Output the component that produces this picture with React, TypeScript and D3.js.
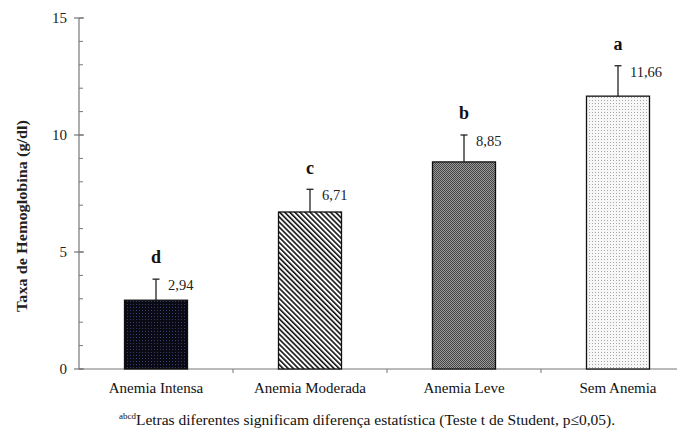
import React from "react";
import * as d3 from "d3";

const categories = ["Anemia Intensa", "Anemia Moderada", "Anemia Leve", "Sem Anemia"];
const values = [2.94, 6.71, 8.85, 11.66];
const errors = [0.9, 0.97, 1.15, 1.3];
const valueLabels = ["2,94", "6,71", "8,85", "11,66"];
const letters = ["d", "c", "b", "a"];
const patterns = ["pDark", "pStripe", "pCheck", "pDots"];
const yTicks = [0, 5, 10, 15];
const yMinor = d3.range(0, 16, 1);

export default function App() {
  const W = 684, H = 438;
  const x0 = 79, x1 = 695;
  const y = d3.scaleLinear().domain([0, 15]).range([369, 18]);
  const x = d3.scaleBand().domain(categories).range([x0, x1]).paddingInner(0).paddingOuter(0);
  const bw = 63;
  const serif = "'Liberation Serif', 'DejaVu Serif', serif";
  return (
    <svg width={W} height={H} style={{ position: "absolute", left: 0, top: 0, background: "#fff" }} fontFamily={serif}>
      <defs>
        <pattern id="pDark" patternUnits="userSpaceOnUse" width={3} height={3}>
          <rect width={3} height={3} fill="#0a0a14" />
          <rect x={1} y={1} width={1} height={1} fill="#3a3a6a" />
        </pattern>
        <pattern id="pStripe" patternUnits="userSpaceOnUse" width={3.6} height={3.6} patternTransform="rotate(-45)">
          <rect width={3.6} height={3.6} fill="#fff" />
          <rect x={0} y={0} width={1.6} height={3.6} fill="#111" />
        </pattern>
        <pattern id="pCheck" patternUnits="userSpaceOnUse" width={2} height={2}>
          <rect width={2} height={2} fill="#9a9a9a" />
          <rect x={0} y={0} width={1} height={1} fill="#444" />
          <rect x={1} y={1} width={1} height={1} fill="#444" />
        </pattern>
        <pattern id="pDots" patternUnits="userSpaceOnUse" width={3} height={3}>
          <rect width={3} height={3} fill="#f7f7f7" />
          <rect x={1} y={1} width={1} height={1} fill="#a8a8a8" />
        </pattern>
      </defs>
      {/* y axis */}
      <line x1={x0} x2={x0} y1={y(15)} y2={y(0)} stroke="#777" strokeWidth={1.2} />
      {yMinor.map((t) => (
        <line key={"m" + t} x1={x0} x2={x0 + 4} y1={y(t)} y2={y(t)} stroke="#777" strokeWidth={1} />
      ))}
      {yTicks.map((t) => (
        <g key={"t" + t}>
          <line x1={x0 - 5} x2={x0 + 5} y1={y(t)} y2={y(t)} stroke="#777" strokeWidth={1.2} />
          <text x={x0 - 12} y={y(t)} dy="0.35em" textAnchor="end" fontSize={15} fill="#222">{t}</text>
        </g>
      ))}
      <text transform={`translate(22,216) rotate(-90)`} dy="0.35em" textAnchor="middle" fontSize={14} fontWeight="bold" fill="#222" textLength={192} lengthAdjust="spacingAndGlyphs">Taxa de Hemoglobina (g/dl)</text>
      {/* x axis */}
      <line x1={x0} x2={677} y1={y(0)} y2={y(0)} stroke="#777" strokeWidth={1.2} />
      {categories.slice(1).map((c) => (
        <line key={"xt" + c} x1={x(c)!} x2={x(c)!} y1={y(0)} y2={y(0) + 4} stroke="#777" strokeWidth={1} />
      ))}
      {categories.map((c, i) => {
        const cx = x(c)! + x.bandwidth() / 2;
        const top = y(values[i]);
        const eTop = y(values[i] + errors[i]);
        return (
          <g key={c}>
            <rect x={cx - bw / 2} y={top} width={bw} height={y(0) - top} fill={`url(#${patterns[i]})`} stroke="#111" strokeWidth={1.3} />
            <line x1={cx} x2={cx} y1={top} y2={eTop} stroke="#222" strokeWidth={1.3} />
            <line x1={cx - 3.5} x2={cx + 3.5} y1={eTop} y2={eTop} stroke="#222" strokeWidth={1.3} />
            <text x={cx + 12} y={eTop + 6} dy="0.35em" fontSize={14.5} fill="#222">{valueLabels[i]}</text>
            <text x={cx} y={eTop - 22} dy="0.35em" textAnchor="middle" fontSize={18} fontWeight="bold" fill="#111">{letters[i]}</text>
            <text x={cx} y={388} dy="0.35em" textAnchor="middle" fontSize={15} fill="#111">{c}</text>
          </g>
        );
      })}
      <text x={367} y={425} textAnchor="middle" fontSize={15.5} fill="#111">
        <tspan fontSize={9} dy={-6}>abcd</tspan>
        <tspan dy={6}>Letras diferentes significam diferença estatística (Teste t de Student, p≤0,05).</tspan>
      </text>
    </svg>
  );
}
